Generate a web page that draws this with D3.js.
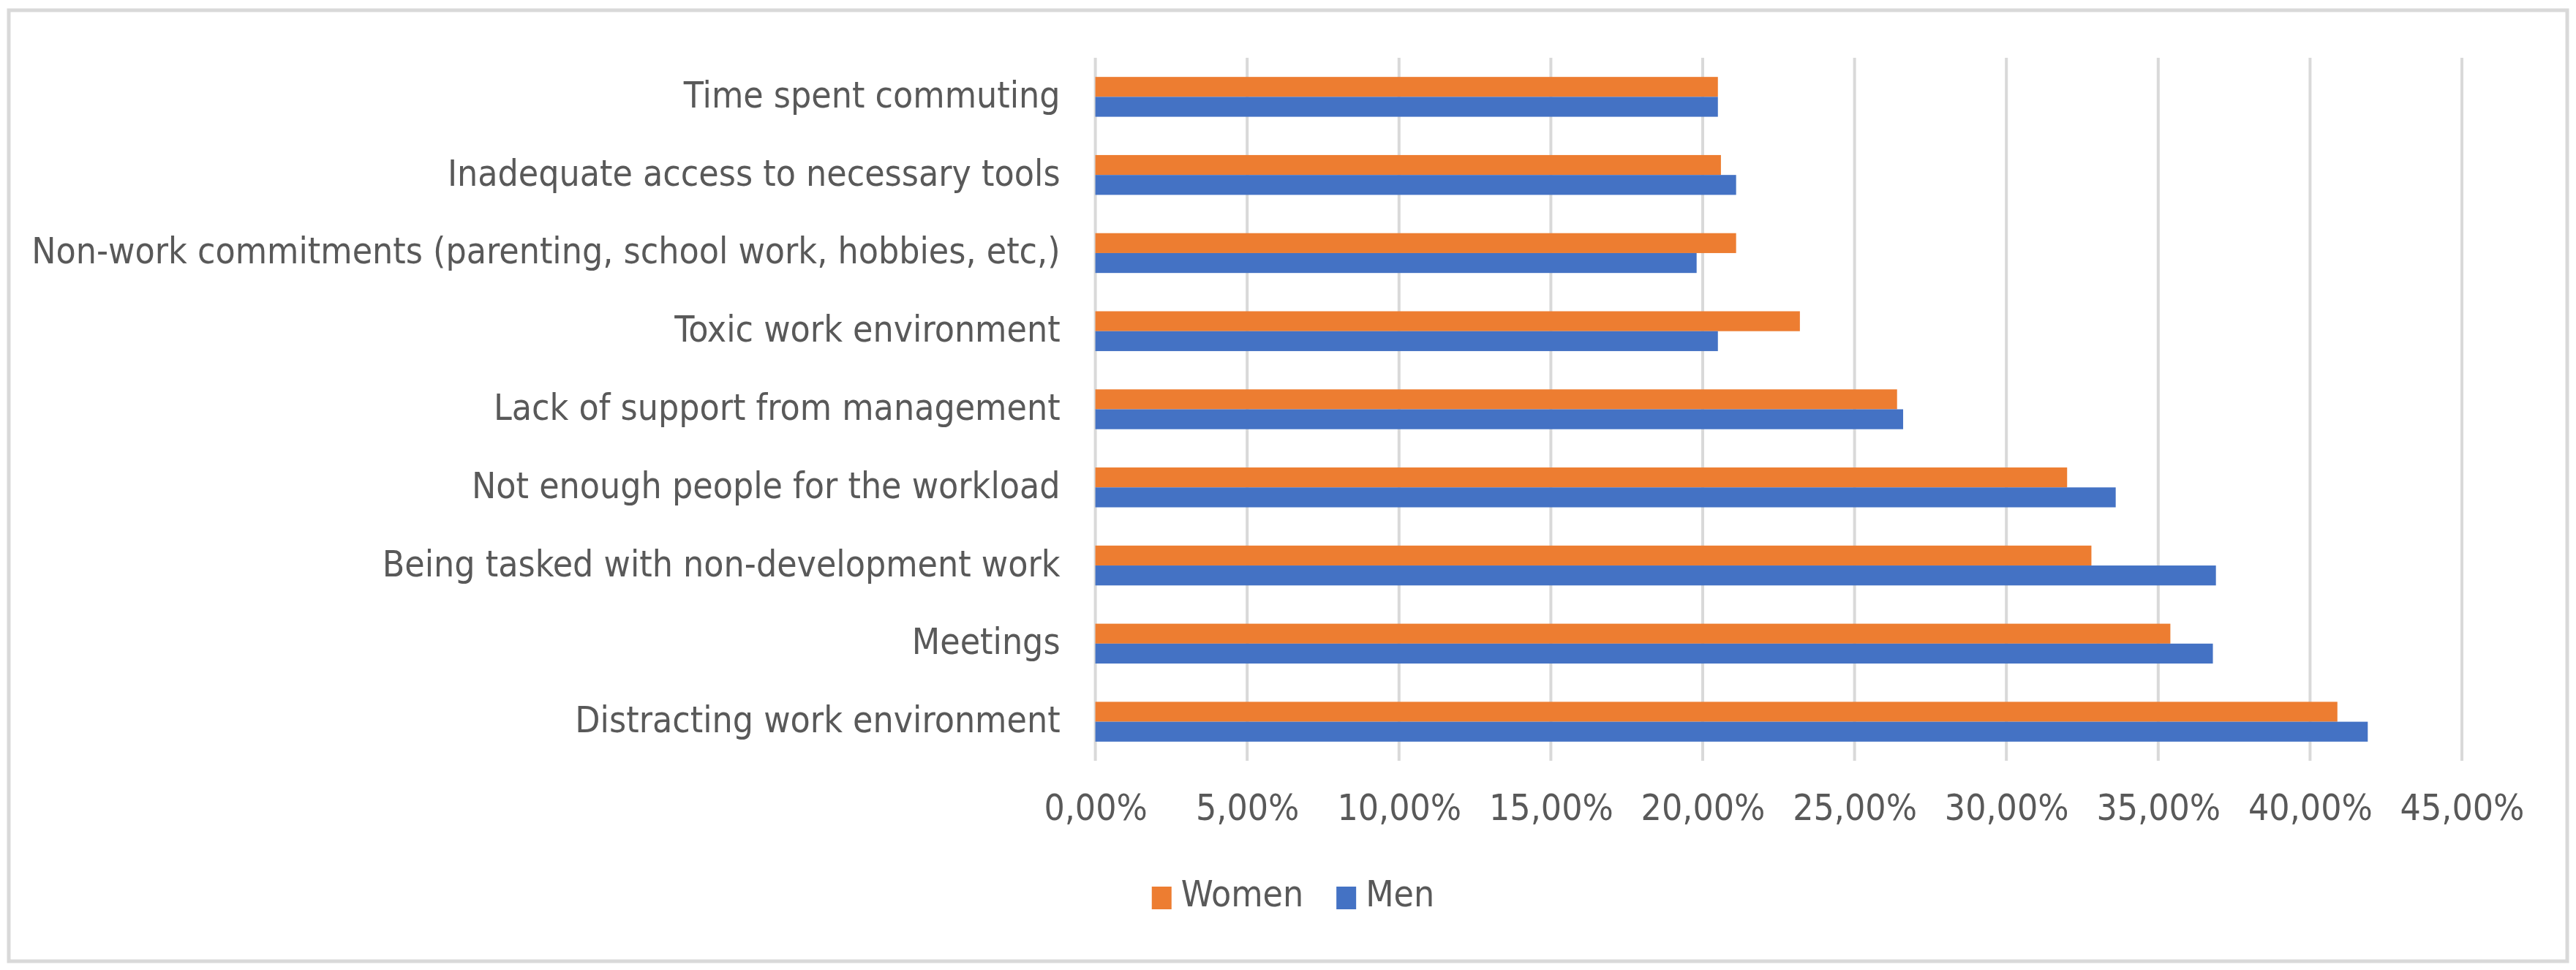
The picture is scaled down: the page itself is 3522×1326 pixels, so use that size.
<!DOCTYPE html>
<html>
<head>
<meta charset="utf-8">
<script src="https://cdn.jsdelivr.net/npm/d3@7"></script>
<style>
  html, body { margin: 0; padding: 0; background: #fff; }
  svg { display: block; }
  .lbl { font-family: "Liberation Sans Narrow", "DejaVu Sans Condensed", sans-serif; fill: #595959; }
</style>
</head>
<body>
<svg id="chart"></svg>
<script>
const categories = [
  "Time spent commuting",
  "Inadequate access to necessary tools",
  "Non-work commitments (parenting, school work, hobbies, etc,)",
  "Toxic work environment",
  "Lack of support from management",
  "Not enough people for the workload",
  "Being tasked with non-development work",
  "Meetings",
  "Distracting work environment",
];
const series = ["Women", "Men"];
const women = [0.205, 0.206, 0.211, 0.232, 0.264, 0.320, 0.328, 0.354, 0.409];
const men = [0.205, 0.211, 0.198, 0.205, 0.266, 0.336, 0.369, 0.368, 0.419];
const xTicks = [0, 0.05, 0.10, 0.15, 0.20, 0.25, 0.30, 0.35, 0.40, 0.45];

const W = 3522, H = 1326;
const PLOT = { left: 1497.6, right: 3366, top: 79, bottom: 1040 };
const COLORS = { Women: "#ED7D31", Men: "#4472C4" };
const FS = 49.5;

const svg = d3.select("#chart").attr("width", W).attr("height", H);

// chart border
svg.append("rect")
  .attr("x", 12).attr("y", 14)
  .attr("width", 3498).attr("height", 1300)
  .attr("fill", "#fff")
  .attr("stroke", "#d9d9d9")
  .attr("stroke-width", 5);

const x = d3.scaleLinear().domain([0, 0.45]).range([PLOT.left, PLOT.right]);
const y = d3.scaleBand().domain(categories).range([PLOT.top, PLOT.bottom])
  .paddingInner(0.49).paddingOuter(0.245);
const ySub = d3.scaleBand().domain(series).range([0, y.bandwidth()]);

const locale = d3.formatLocale({ decimal: ",", thousands: ".", grouping: [3], currency: ["", "€"] });
const pct = locale.format(".2%");

// gridlines
svg.append("g")
  .selectAll("line")
  .data(xTicks)
  .join("line")
  .attr("x1", d => x(d)).attr("x2", d => x(d))
  .attr("y1", PLOT.top).attr("y2", PLOT.bottom)
  .attr("stroke", "#d9d9d9")
  .attr("stroke-width", 4);

// bars
const rows = categories.map((c, i) => ({ cat: c, Women: women[i], Men: men[i] }));
const groups = svg.append("g")
  .selectAll("g")
  .data(rows)
  .join("g")
  .attr("transform", d => `translate(0,${y(d.cat)})`);

groups.selectAll("rect")
  .data(d => series.map(s => ({ s, v: d[s] })))
  .join("rect")
  .attr("x", x(0))
  .attr("y", d => ySub(d.s))
  .attr("width", d => x(d.v) - x(0))
  .attr("height", ySub.bandwidth())
  .attr("fill", d => COLORS[d.s]);

// x axis labels
const xAxis = svg.append("g")
  .attr("transform", `translate(0,${PLOT.bottom})`)
  .call(d3.axisBottom(x).tickValues(xTicks).tickFormat(pct).tickSize(0));
xAxis.select(".domain").remove();
xAxis.selectAll("text")
  .attr("class", "lbl")
  .attr("y", 81).attr("dy", 0)
  .attr("font-size", FS);

// category labels
const yAxis = svg.append("g")
  .attr("transform", `translate(${PLOT.left},0)`)
  .call(d3.axisLeft(y).tickSize(0).tickPadding(48));
yAxis.select(".domain").remove();
yAxis.selectAll("text")
  .attr("class", "lbl")
  .attr("dy", 14.5)
  .attr("font-size", FS);

// legend
const legend = svg.append("g").attr("class", "legend");
const items = legend.selectAll("g").data(series).join("g");
items.append("rect")
  .attr("x", 0).attr("y", -27)
  .attr("width", 27).attr("height", 31)
  .attr("fill", d => COLORS[d]);
items.append("text")
  .attr("class", "lbl")
  .attr("x", 40).attr("y", 0)
  .attr("font-size", FS)
  .text(d => d);
let offset = 0;
items.each(function () {
  const tw = d3.select(this).select("text").node().getComputedTextLength();
  d3.select(this).attr("transform", `translate(${offset},0)`);
  offset += 40 + tw + 45;
});
const legendW = offset - 45;
legend.attr("transform", `translate(${1768 - legendW / 2},1239)`);
</script>
</body>
</html>
